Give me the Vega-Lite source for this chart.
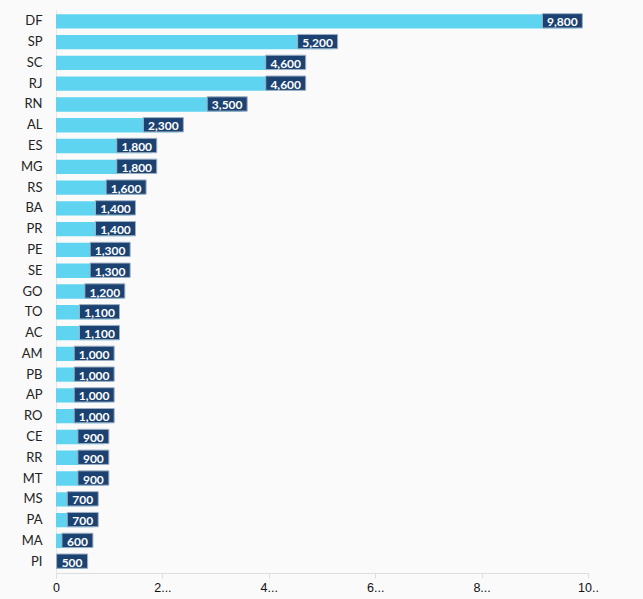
{
  "$schema": "https://vega.github.io/schema/vega-lite/v6.json",
  "autosize": "none",
  "width": 532,
  "height": 563,
  "padding": {"left": 56, "top": 10, "right": 55, "bottom": 26},
  "background": "#fafafa",
  "config": {"view": {"stroke": null}},
  "data": {"values": [
    {"state": "DF", "value": 9800},
    {"state": "SP", "value": 5200},
    {"state": "SC", "value": 4600},
    {"state": "RJ", "value": 4600},
    {"state": "RN", "value": 3500},
    {"state": "AL", "value": 2300},
    {"state": "ES", "value": 1800},
    {"state": "MG", "value": 1800},
    {"state": "RS", "value": 1600},
    {"state": "BA", "value": 1400},
    {"state": "PR", "value": 1400},
    {"state": "PE", "value": 1300},
    {"state": "SE", "value": 1300},
    {"state": "GO", "value": 1200},
    {"state": "TO", "value": 1100},
    {"state": "AC", "value": 1100},
    {"state": "AM", "value": 1000},
    {"state": "PB", "value": 1000},
    {"state": "AP", "value": 1000},
    {"state": "RO", "value": 1000},
    {"state": "CE", "value": 900},
    {"state": "RR", "value": 900},
    {"state": "MT", "value": 900},
    {"state": "MS", "value": 700},
    {"state": "PA", "value": 700},
    {"state": "MA", "value": 600},
    {"state": "PI", "value": 500}
  ]},
  "encoding": {
    "y": {
      "field": "state", "type": "nominal", "sort": null,
      "scale": {"paddingInner": 0.31, "paddingOuter": 0.2},
      "axis": {
        "title": null, "ticks": false, "labelPadding": 14,
        "labelFont": "Lato", "labelFontSize": 13, "labelColor": "#222",
        "domainColor": "#e6e6e6"
      }
    }
  },
  "layer": [
    {
      "mark": {"type": "bar", "color": "#5fd4f0"},
      "encoding": {
        "x": {
          "field": "value", "type": "quantitative",
          "scale": {"domain": [0, 10000], "nice": false},
          "axis": {
            "title": null, "grid": false, "labelFlush": false,
            "values": [0, 2000, 4000, 6000, 8000, 10000],
            "labelExpr": "datum.value == 0 ? '0' : datum.value == 10000 ? '10..' : (datum.value / 1000) + '...'",
            "labelFont": "Liberation Sans", "labelFontSize": 12.5, "labelColor": "#111",
            "domainColor": "#dddddd", "tickColor": "#dddddd", "tickSize": 5, "labelPadding": 3
          }
        }
      }
    },
    {
      "transform": [{"filter": "datum.value >= 1000"}],
      "mark": {"type": "rect", "color": "#1c4271", "stroke": "#9fb0c4", "strokeWidth": 1, "xOffset": -35, "x2Offset": 5, "yOffset": -0.5, "y2Offset": 0.5},
      "encoding": {
        "x": {"field": "value", "type": "quantitative"},
        "x2": {"field": "value"}
      }
    },
    {
      "transform": [{"filter": "datum.value < 1000"}],
      "mark": {"type": "rect", "color": "#1c4271", "stroke": "#9fb0c4", "strokeWidth": 1, "xOffset": -26, "x2Offset": 5, "yOffset": -0.5, "y2Offset": 0.5},
      "encoding": {
        "x": {"field": "value", "type": "quantitative"},
        "x2": {"field": "value"}
      }
    },
    {
      "transform": [{"filter": "datum.value >= 1000"}],
      "mark": {"type": "text", "color": "white", "font": "Lato", "fontSize": 12, "fontWeight": "bold", "align": "center", "baseline": "middle", "dx": -15, "dy": 1},
      "encoding": {
        "x": {"field": "value", "type": "quantitative"},
        "text": {"field": "value", "type": "quantitative", "format": ","}
      }
    },
    {
      "transform": [{"filter": "datum.value < 1000"}],
      "mark": {"type": "text", "color": "white", "font": "Lato", "fontSize": 12, "fontWeight": "bold", "align": "center", "baseline": "middle", "dx": -10.5, "dy": 1},
      "encoding": {
        "x": {"field": "value", "type": "quantitative"},
        "text": {"field": "value", "type": "quantitative", "format": ","}
      }
    }
  ]
}
